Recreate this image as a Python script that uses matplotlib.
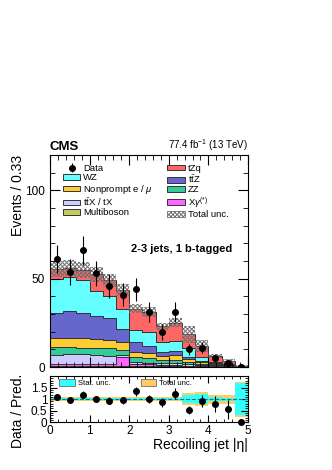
import numpy as np
import matplotlib
matplotlib.use("Agg")
import matplotlib.pyplot as plt
from matplotlib.patches import Patch
from matplotlib.ticker import MultipleLocator

plt.rcParams['font.family'] = ['Liberation Sans', 'DejaVu Sans']
plt.rcParams['mathtext.fontset'] = 'custom'
plt.rcParams['mathtext.rm'] = 'Liberation Sans'
plt.rcParams['mathtext.it'] = 'Liberation Sans:italic'
plt.rcParams['hatch.linewidth'] = 0.7

# ----- data -----
edges = np.linspace(0, 5, 16)
data = np.array([61, 54, 66, 53, 46, 41, 44, 31, 20, 31, 10, 11, 5, 2, 0])

# cumulative stack tops, bottom to top
cum_tops = {
    "Multiboson": [0.6, 0.6, 0.6, 0.6, 0.6, 0.6, 0.3, 0.3, 0.3, 0.3, 0.2, 0.1, 0.1, 0.0, 0.0],
    "Xgamma":     [1.6, 1.6, 1.8, 1.8, 1.8, 5.8, 1.5, 1.6, 1.2, 1.2, 0.8, 0.5, 0.3, 0.1, 0.0],
    "ttX":        [7.0, 7.2, 7.2, 6.8, 6.5, 7.0, 2.6, 2.4, 2.0, 2.0, 1.5, 0.9, 0.5, 0.3, 0.05],
    "ZZ":         [11.2, 11.3, 11.0, 10.8, 10.5, 9.7, 5.9, 5.0, 4.0, 4.2, 2.6, 1.6, 0.9, 0.5, 0.1],
    "Nonprompt":  [16.2, 16.6, 16.5, 16.0, 15.4, 14.4, 8.7, 7.7, 6.5, 7.0, 4.5, 3.0, 1.5, 0.8, 0.15],
    "ttZ":        [30.5, 31.5, 30.5, 29.0, 27.5, 21.4, 13.9, 11.9, 8.7, 9.0, 5.5, 3.6, 2.0, 1.0, 0.2],
    "WZ":         [50.0, 50.8, 49.4, 43.2, 40.0, 32.8, 21.0, 20.1, 14.0, 14.8, 10.6, 5.9, 3.0, 1.5, 0.3],
    "tZq":        [55.5, 56.0, 55.0, 52.5, 49.0, 43.5, 33.0, 31.0, 23.0, 25.0, 18.5, 12.0, 6.3, 3.6, 0.5],
}
labels = {
    "Multiboson": "Multiboson",
    "Xgamma": r"X$\gamma^{(*)}$",
    "ttX": r"t$\bar{\mathrm{t}}$X / tX",
    "ZZ": "ZZ",
    "Nonprompt": r"Nonprompt e / $\mu$",
    "ttZ": r"t$\bar{\mathrm{t}}$Z",
    "WZ": "WZ",
    "tZq": "tZq",
}
colors = {
    "Multiboson": "#c8c864",
    "Xgamma": "#ff66ff",
    "ttX": "#ccccff",
    "ZZ": "#33cc99",
    "Nonprompt": "#ffcc33",
    "ttZ": "#6666cc",
    "WZ": "#66ffff",
    "tZq": "#ff6666",
}

# relative uncertainties (ratio panel bands)
stat_rel = [0.03, 0.03, 0.03, 0.03, 0.03, 0.03, 0.03, 0.04, 0.04, 0.04, 0.18, 0.22, 0.09, 0.07, 0.68]
tot_rel = [0.08, 0.08, 0.08, 0.08, 0.08, 0.08, 0.08, 0.09, 0.09, 0.1, 0.25, 0.29, 0.2, 0.2, 0.75]

total = np.array(cum_tops["tZq"])
stat_rel = np.array(stat_rel)
tot_rel = np.array(tot_rel)
centers = 0.5 * (edges[1:] + edges[:-1])

fig = plt.figure(figsize=(3.32, 4.70), dpi=100)
ax = fig.add_axes([0.1506, 0.2191, 0.5964, 0.451])
rax = fig.add_axes([0.1506, 0.1015, 0.5964, 0.0985])

# ----- main stack -----
order = ["Multiboson", "Xgamma", "ttX", "ZZ", "Nonprompt", "ttZ", "WZ", "tZq"]
bottom = np.zeros(15)
handles = {}
for key in order:
    top = np.array(cum_tops[key])
    ax.stairs(top, edges, baseline=bottom, fill=True, facecolor=colors[key],
              edgecolor="#333333", linewidth=0.7)
    handles[key] = Patch(facecolor=colors[key], edgecolor="#333333", linewidth=0.7,
                         label=labels[key])
    bottom = top

ax.stairs(total * (1 + tot_rel), edges, baseline=total * (1 - tot_rel), fill=True,
          facecolor="none", edgecolor="#707070", hatch="xxxxxxxx", linewidth=0)
unc_handle = Patch(facecolor="white", edgecolor="#707070", hatch="xxxxxxxx",
                   linewidth=0.6, label="Total unc.")

derr = np.sqrt(data)
eb = ax.errorbar(centers, data, yerr=derr, fmt="o", color="black", markersize=4,
                 elinewidth=0.8, capsize=0, label="Data")

ax.set_xlim(0, 5)
ax.set_ylim(0, 120)
ax.set_ylabel("Events / 0.33", fontsize=10, loc="top")
ax.yaxis.set_label_coords(-0.125, 1.0)
ax.yaxis.set_major_locator(MultipleLocator(50))
ax.yaxis.set_minor_locator(MultipleLocator(10))
ax.xaxis.set_major_locator(MultipleLocator(1))
ax.xaxis.set_minor_locator(MultipleLocator(0.2))
ax.tick_params(which="both", direction="in", top=True, right=True, labelsize=8.5)
ax.tick_params(which="major", length=7)
ax.tick_params(which="minor", length=3.5)
ax.set_xticklabels([])

leg_handles = [eb, handles["WZ"], handles["Nonprompt"], handles["ttX"], handles["Multiboson"],
               handles["tZq"], handles["ttZ"], handles["ZZ"], handles["Xgamma"], unc_handle]
ax.legend(handles=leg_handles, ncol=2, loc="upper left", bbox_to_anchor=(0.03, 0.99),
          frameon=False, fontsize=6.8, handlelength=1.9, handleheight=0.55,
          labelspacing=0.05, columnspacing=1.5, handletextpad=0.3, borderpad=0.2)

ax.text(0.0, 1.01, "CMS", transform=ax.transAxes, fontsize=9.5, fontweight="bold",
        ha="left", va="bottom")
ax.text(1.0, 1.01, r"77.4 fb$^{-1}$ (13 TeV)", transform=ax.transAxes, fontsize=7,
        ha="right", va="bottom")
ax.text(0.92, 0.555, "2-3 jets, 1 b-tagged", transform=ax.transAxes, fontsize=8,
        fontweight="bold", ha="right", va="center")

# ----- ratio panel -----
ratio = data / total
rerr = np.sqrt(data) / total
rax.stairs(1 + tot_rel, edges, baseline=1 - tot_rel, fill=True, facecolor="#ffcc66",
           edgecolor="none")
rax.stairs(1 + stat_rel, edges, baseline=1 - stat_rel, fill=True, facecolor="#33ffff",
           edgecolor="none")
rax.axhline(1, color="#2a6f6f", linestyle="--", linewidth=0.8)
rax.errorbar(centers, ratio, yerr=rerr, fmt="o", color="black", markersize=4,
             elinewidth=0.8, capsize=0, clip_on=False)

rax.set_xlim(0, 5)
rax.set_ylim(0, 2)
rax.yaxis.set_major_locator(MultipleLocator(0.5))
rax.yaxis.set_minor_locator(MultipleLocator(0.1))
rax.xaxis.set_major_locator(MultipleLocator(1))
rax.xaxis.set_minor_locator(MultipleLocator(0.2))
rax.set_yticks([0, 0.5, 1, 1.5])
rax.set_yticklabels(["0", "0.5", "1", "1.5"])
rax.tick_params(which="both", direction="in", top=True, right=True, labelsize=8.5, pad=2)
rax.tick_params(which="major", length=5)
rax.tick_params(which="minor", length=2.5)
rax.set_ylabel("Data / Pred.", fontsize=10)
rax.yaxis.set_label_coords(-0.125, 0.25)
rax.set_xlabel("Recoiling jet |η|", fontsize=10, loc="right", labelpad=1)

rleg = [Patch(facecolor="#33ffff", edgecolor="#555555", linewidth=0.5, label="Stat. unc."),
        Patch(facecolor="#ffcc66", edgecolor="#555555", linewidth=0.5, label="Total unc.")]
rax.legend(handles=rleg, ncol=2, loc="upper left", bbox_to_anchor=(0.02, 1.04),
           frameon=False, fontsize=5.5, handlelength=2.0, handleheight=0.9,
           columnspacing=4.0, handletextpad=0.4, borderpad=0.2)

fig.savefig("out.png", dpi=100)
